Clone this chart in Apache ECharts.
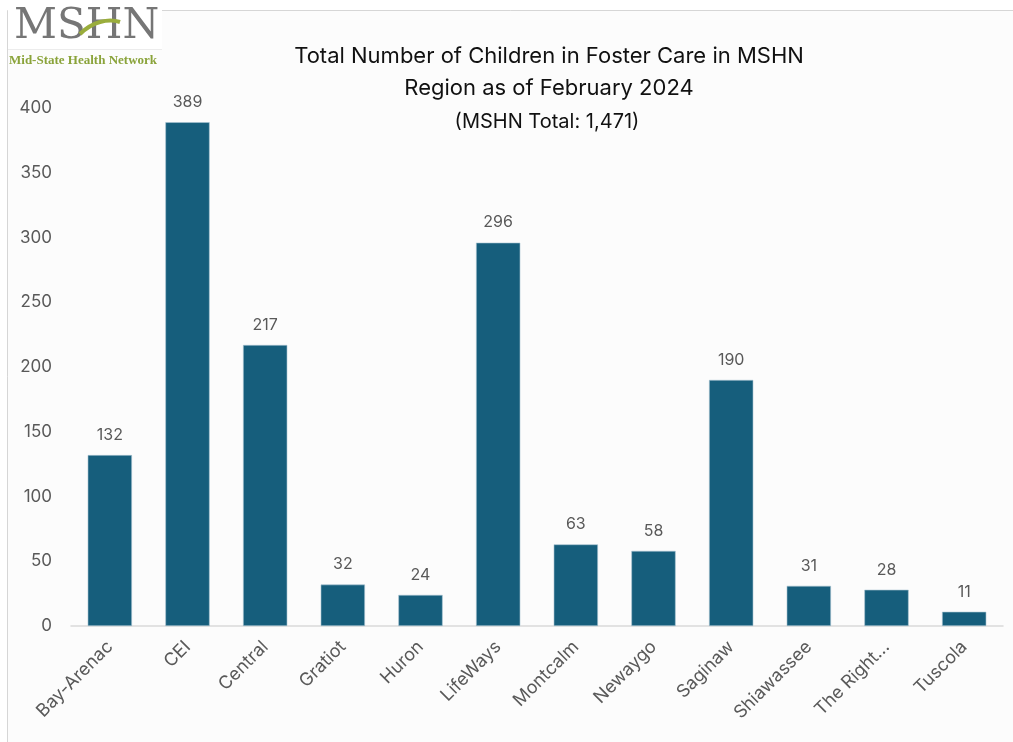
<!DOCTYPE html>
<html>
<head>
<meta charset="utf-8">
<script src="https://cdn.jsdelivr.net/npm/echarts@6/dist/echarts.min.js"></script>
<style>
  html, body { margin: 0; padding: 0; background: #fff; }
  #chart { width: 1013px; height: 742px; }
</style>
</head>
<body>
<div id="chart"></div>
<script>
// regions and counts
const regions = ['Bay-Arenac', 'CEI', 'Central', 'Gratiot', 'Huron', 'LifeWays',
  'Montcalm', 'Newaygo', 'Saginaw', 'Shiawassee', 'The Right...', 'Tuscola']
const children = [132, 389, 217, 32, 24, 296, 63, 58, 190, 31, 28, 11]
const titleLines = ['Total Number of Children in Foster Care in MSHN', 'Region as of February 2024']
const subTitle = '(MSHN Total: 1,471)'

const font = 'Inter, "Liberation Sans", sans-serif'
const grey = '#595959'

let myChart = echarts.init(document.getElementById('chart'))
let option = {
  backgroundColor: '#fff',
  animation: false,
  graphic: [
    // frame
    { type: 'rect', silent: true, z: -10, shape: { x: 7.5, y: 10.5, width: 1010, height: 740 },
      style: { fill: '#fcfcfc', stroke: '#d6d6d6', lineWidth: 1 } },
    // logo box
    { type: 'rect', silent: true, z: -5, shape: { x: 8, y: 0, width: 154, height: 49 },
      style: { fill: '#fff' } },
    { type: 'line', silent: true, shape: { x1: 8, y1: 49.5, x2: 162, y2: 49.5 },
      style: { stroke: '#ececec', lineWidth: 1 } },
    { type: 'text', x: 14, y: 6,
      style: { text: 'MSHN', fill: '#767676', font: '42px "DejaVu Serif", "Liberation Serif", serif', letterSpacing: -4 } },
    { type: 'bezierCurve', silent: true,
      shape: { x1: 80, y1: 34, x2: 120, y2: 22, cpx1: 92, cpy1: 22, cpx2: 108, cpy2: 18 },
      style: { stroke: '#9aad3c', lineWidth: 4, fill: null } },
    { type: 'text', x: 9, y: 54,
      style: { text: 'Mid-State Health Network', fill: '#8aa33a', font: 'bold 13px "Liberation Serif", serif' } },
    // titles
    { type: 'text', x: 549, y: 40,
      style: { text: titleLines.join('\n'), fill: '#111', font: '22px ' + font, lineHeight: 32, align: 'center' } },
    { type: 'text', x: 547, y: 112,
      style: { text: subTitle, fill: '#111', font: '20px ' + font, align: 'center' } }
  ],
  grid: { left: 71, right: 10, top: 108, bottom: 116 },
  xAxis: {
    type: 'category',
    data: regions,
    axisLine: { lineStyle: { color: '#d9d9d9', width: 1.5 } },
    axisTick: { show: false },
    axisLabel: { rotate: 45, color: grey, fontSize: 18, fontFamily: font, margin: 18, interval: 0 }
  },
  yAxis: {
    type: 'value',
    min: 0,
    max: 400,
    interval: 50,
    axisLine: { show: false },
    axisTick: { show: false },
    splitLine: { show: false },
    axisLabel: { color: grey, fontSize: 17, fontFamily: font, margin: 19 }
  },
  series: [{
    type: 'bar',
    data: children,
    barWidth: '57%',
    itemStyle: { color: '#165e7c', borderColor: '#a9c4d2', borderWidth: 0.6 },
    label: { show: true, position: 'top', distance: 12, color: grey, fontSize: 16, fontFamily: font }
  }]
}
myChart.setOption(option)
</script>
</body>
</html>
